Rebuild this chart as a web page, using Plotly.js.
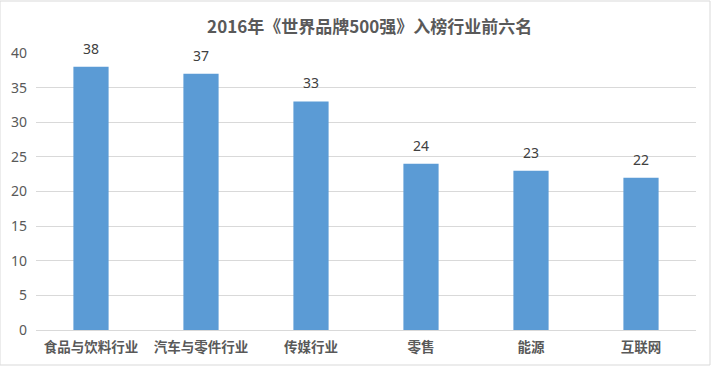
<!DOCTYPE html>
<html><head><meta charset="utf-8">
<script src="https://cdn.plot.ly/plotly-3.0.1.min.js"></script>
<style>html,body{margin:0;padding:0;background:#fff}</style>
</head><body>
<div id="chart" style="width:711px;height:366px"></div>
<script>
const categories = ["食品与饮料行业","汽车与零件行业","传媒行业","零售","能源","互联网"];
const values = [38, 37, 33, 24, 23, 22];
const yTicks = [0, 5, 10, 15, 20, 25, 30, 35, 40];
const titleText = "2016年《世界品牌500强》入榜行业前六名";

const trace = {
  type: "bar",
  x: categories,
  y: values,
  marker: {color: "#5b9bd5"},
  hoverinfo: "none"
};
const labels = categories.map((c, i) => ({
  x: c, y: values[i], xref: "x", yref: "y",
  text: String(values[i]), showarrow: false,
  yanchor: "bottom", yshift: 7,
  font: {family: "Noto Sans, sans-serif", size: 14, color: "#404040"}
}));
const layout = {
  width: 711, height: 366,
  margin: {l: 36, r: 15, t: 53, b: 36},
  paper_bgcolor: "#ffffff", plot_bgcolor: "#ffffff",
  bargap: 0.68,
  showlegend: false,
  title: {text: "<b>" + titleText + "</b>", x: 0.52, xanchor: "center", y: 0.925, yanchor: "middle",
          font: {family: "Noto Sans CJK SC, sans-serif", size: 17, color: "#595959"}},
  xaxis: {
    type: "category",
    showgrid: false,
    showline: true, linecolor: "#d9d9d9", linewidth: 1,
    ticks: "",
    ticklabelstandoff: 5,
    tickfont: {family: "Noto Sans CJK SC, sans-serif", size: 13.5, color: "#595959", weight: "bold"},
    fixedrange: true
  },
  yaxis: {
    range: [0, 40],
    tickvals: yTicks,
    ticktext: yTicks.map(String),
    showgrid: true, gridcolor: "#d9d9d9", gridwidth: 1,
    zeroline: false,
    showline: false,
    ticks: "",
    ticklabelstandoff: 8,
    tickfont: {family: "Noto Sans, sans-serif", size: 14, color: "#595959"},
    fixedrange: true
  },
  annotations: labels,
  shapes: [{type: "rect", xref: "paper", yref: "paper", x0: -36/660, x1: 1 + 14/660, y0: -35/277, y1: 1 + 52/277,
            line: {color: "#d9d9d9", width: 1}, fillcolor: "rgba(0,0,0,0)", layer: "below"}]
};
Plotly.newPlot("chart", [trace], layout, {displayModeBar: false, staticPlot: true});
</script>
</body></html>
